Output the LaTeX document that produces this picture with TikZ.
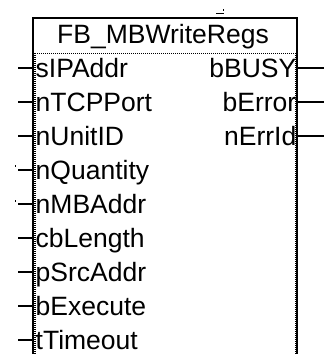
\documentclass[tikz,border=0pt]{standalone}
\usepackage{fontspec}
\setmainfont{Liberation Sans}
\begin{document}
\begin{tikzpicture}[x=1pt,y=-1pt,
  pinlbl/.style={inner sep=0pt,font=\fontsize{26.5}{26.5}\selectfont},
  pinline/.style={line width=1.2pt},
  frame/.style={line width=1.2pt},
  comb/.style={line width=2pt,dash pattern=on 1pt off 1pt}]
\useasboundingbox (0,0) rectangle (324,354);
% frame
\draw[frame] (33,354) -- (33,18) -- (297,18) -- (297,354);
\draw[comb] (34.5,53) -- (34.5,354);
\draw[comb] (295.5,53) -- (295.5,354);
\draw[line width=1pt,dash pattern=on 1pt off 1pt] (33,53.5) -- (297,53.5);
% artifact at top
\draw[line width=1.5pt] (216,13.5) -- (223.5,13.5);
\fill (222.5,9) rectangle (224,11);
% title
\node[pinlbl,anchor=base] (title) at (163,43) {FB\_MBWriteRegs};
% inputs
\foreach \i/\t in {1/sIPAddr,2/nTCPPort,3/nUnitID,4/nQuantity,5/nMBAddr,6/cbLength,7/pSrcAddr,8/bExecute,9/tTimeout}{
  \pgfmathsetmacro{\yy}{68+34*(\i-1)}
  \node[pinlbl,anchor=base west] (in\i) at (35.5,\yy+9) {\t};
  \coordinate (ie\i) at (33,\yy);
  \coordinate (io\i) at (18,\yy);
  \draw[pinline] (io\i) -- (ie\i);
}
% outputs
\foreach \i/\t in {1/bBUSY,2/bError,3/nErrId}{
  \pgfmathsetmacro{\yy}{68+34*(\i-1)}
  \node[pinlbl,anchor=base east] (out\i) at (296.5,\yy+9) {\t};
  \coordinate (oe\i) at (297,\yy);
  \coordinate (oo\i) at (324,\yy);
  \draw[pinline] (oe\i) -- (oo\i);
}
% stray dots
\fill (14.5,165) rectangle (16,166.5);
\fill (14.5,200) rectangle (16,201.5);
\end{tikzpicture}
\end{document}
